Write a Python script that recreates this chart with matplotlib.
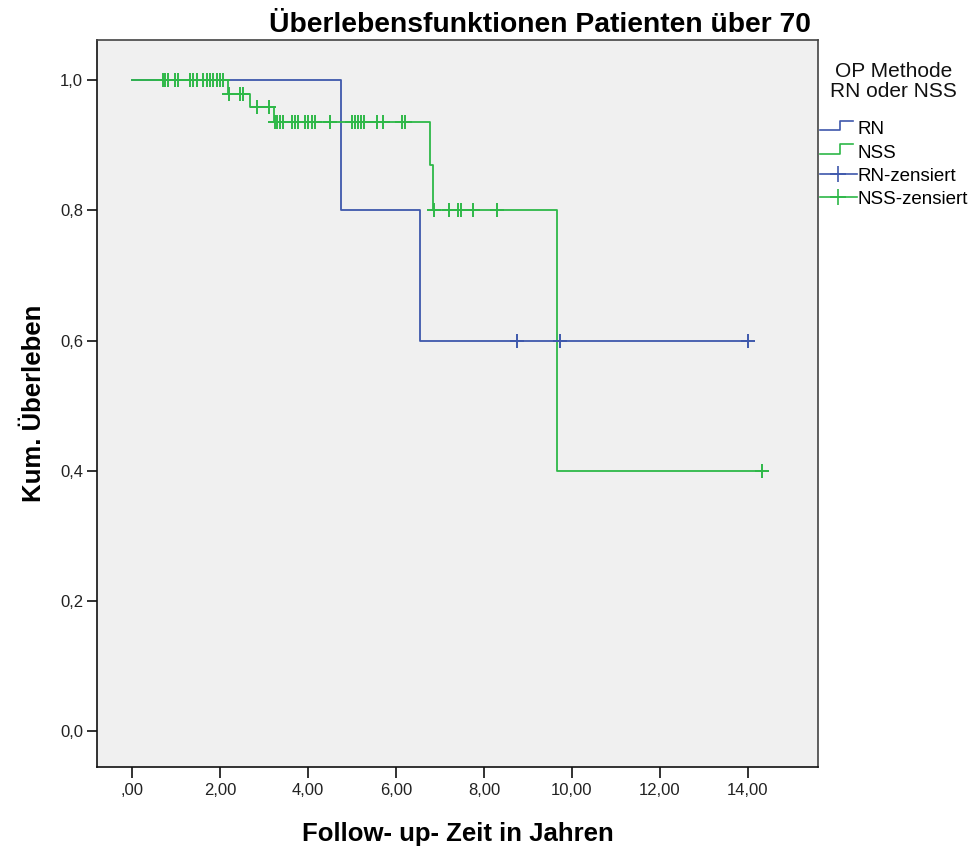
'''
Kaplan-Meier survival curves (patients over 70), RN vs NSS.
'''
import numpy as np
import matplotlib
matplotlib.use('Agg')
import matplotlib.pyplot as plt
from matplotlib.lines import Line2D
from matplotlib.legend_handler import HandlerBase

plt.rcParams['font.family'] = ['Liberation Sans', 'DejaVu Sans']

# step functions: event times and survival after each step (last entry = end of follow-up)
rn_times = [0.0, 4.75, 6.55, 14.0]
rn_surv = [1.0, 0.8, 0.6, 0.6]
rn_cens = [8.75, 9.73, 14.0]

nss_times = [0.0, 2.18, 2.68, 3.23, 6.77, 6.85, 9.67, 14.32]
nss_surv = [1.0, 0.979, 0.958, 0.936, 0.870, 0.801, 0.40, 0.40]
nss_cens = [0.70, 0.75, 0.82, 0.98, 1.05, 1.32, 1.39, 1.48, 1.61, 1.70, 1.77,
            1.84, 1.93, 2.00, 2.07, 2.20, 2.45, 2.52, 2.84, 3.11, 3.24, 3.30,
            3.36, 3.43, 3.64, 3.70, 3.77, 3.93, 4.00, 4.09, 4.16, 4.50, 5.00,
            5.07, 5.14, 5.21, 5.28, 5.57, 5.70, 6.14, 6.20, 6.86, 7.20, 7.41,
            7.48, 7.75, 8.30, 14.32]

x_ticks = [0, 2, 4, 6, 8, 10, 12, 14]
x_tick_labels = [',00', '2,00', '4,00', '6,00', '8,00', '10,00', '12,00', '14,00']
y_ticks = [0.0, 0.2, 0.4, 0.6, 0.8, 1.0]
y_tick_labels = ['0,0', '0,2', '0,4', '0,6', '0,8', '1,0']

blue = '#3e58ac'
green = '#2eb848'


def surv_at(t, times, surv):
  '''value of the step function at time t'''
  idx = np.searchsorted(times, t, side='right') - 1
  return np.asarray(surv)[idx]


class StepHandler(HandlerBase):
  '''draws a little step as the legend icon'''
  def create_artists(self, legend, orig_handle, xdescent, ydescent,
                     width, height, fontsize, trans):
    x0 = -xdescent
    xs = [x0, x0 + 0.54*width, x0 + 0.54*width, x0 + 0.9*width]
    ys = [0.3*height, 0.3*height, 1.05*height, 1.05*height]
    ln = Line2D(xs, ys, color=orig_handle.get_color(), lw=1.2, transform=trans)
    return [ln]


fig = plt.figure(figsize=(9.73, 8.48), dpi=100)
ax = fig.add_axes([0.0997, 0.096, 0.741, 0.857])
ax.set_facecolor('#f0f0f0')

rn_line, = ax.step(rn_times, rn_surv, where='post', color=blue, lw=1.3)
nss_line, = ax.step(nss_times, nss_surv, where='post', color=green, lw=1.3)

rn_c, = ax.plot(rn_cens, surv_at(rn_cens, rn_times, rn_surv), ls='none',
                marker='+', ms=10, mew=1.4, color=blue)
nss_c, = ax.plot(nss_cens, surv_at(nss_cens, nss_times, nss_surv), ls='none',
                 marker='+', ms=10, mew=1.4, color=green)

ax.set_xlim((-0.8, 15.6))
ax.set_ylim((-0.054, 1.0615))
ax.set_xticks(x_ticks)
ax.set_xticklabels(x_tick_labels)
ax.set_yticks(y_ticks)
ax.set_yticklabels(y_tick_labels)
ax.tick_params(axis='x', length=8, width=1.3, labelsize=12, pad=4, colors='#222222')
ax.tick_params(axis='y', length=7, width=1.3, labelsize=12, pad=3, colors='#222222')
for s in ax.spines.values():
  s.set_color('#444444')
  s.set_linewidth(1.2)
ax.spines['left'].set_color('#111111')
ax.spines['bottom'].set_color('#111111')

ax.set_xlabel('Follow- up- Zeit in Jahren', fontsize=18.5, fontweight='bold', labelpad=17)
ax.set_ylabel('Kum. Überleben', fontsize=18.5, fontweight='bold', labelpad=10)
fig.text(0.833, 0.971, 'Überlebensfunktionen Patienten über 70', ha='right', va='center',
         fontsize=20.3, fontweight='bold')

# legend title drawn separately so it can sit centred above the entries
fig.text(0.918, 0.904, 'OP Methode\nRN oder NSS', ha='center', va='center',
         fontsize=15, linespacing=1.1, color='#111111')

leg_rn = Line2D([], [], color=blue)
leg_nss = Line2D([], [], color=green)
rn_leg_c = Line2D([], [], color=blue, lw=1.2, marker='+', ms=12, mew=1.2)
nss_leg_c = Line2D([], [], color=green, lw=1.2, marker='+', ms=12, mew=1.2)
leg = fig.legend([leg_rn, leg_nss, rn_leg_c, nss_leg_c],
                 ['RN', 'NSS', 'RN-zensiert', 'NSS-zensiert'],
                 handler_map={leg_rn: StepHandler(), leg_nss: StepHandler()},
                 loc='upper left', bbox_to_anchor=(0.8427, 0.857), frameon=False,
                 fontsize=13.5, handlelength=1.97, handletextpad=0.05,
                 labelspacing=0.32, borderaxespad=0.0, borderpad=0.0)

plt.savefig('out.png', dpi=100)
